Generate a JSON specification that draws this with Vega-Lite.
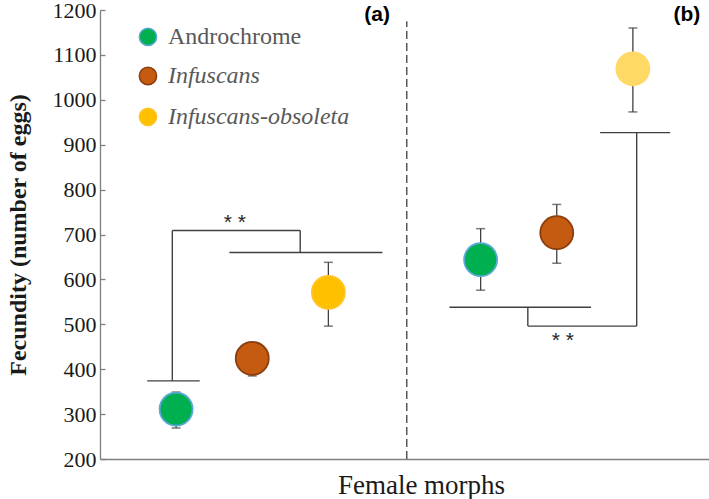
{
  "$schema": "https://vega.github.io/schema/vega-lite/v6.json",
  "width": 609,
  "height": 449,
  "autosize": "none",
  "padding": {"left": 100, "top": 10, "right": 0, "bottom": 40},
  "background": "white",
  "config": {
    "view": {"stroke": null},
    "font": "Liberation Serif",
    "numberFormat": "d",
    "style": {"guide-label": {"font": "Liberation Serif", "fontSize": 22, "fill": "#1a1a1a"}},
    "axis": {"grid": false},
    "axisLeft": {
      "tickSize": -5, "tickColor": "#7f7f7f", "domainColor": "#7f7f7f", "domainWidth": 1.3, "tickWidth": 1.3,
      "labelFont": "Liberation Serif", "labelFontSize": 22, "labelColor": "#1a1a1a", "labelPadding": 9,
      "titleFont": "Liberation Serif", "titleFontSize": 24, "titleFontWeight": "bold", "titleColor": "#1a1a1a", "titlePadding": 22
    },
    "axisBottom": {
      "ticks": false, "labels": false, "domainColor": "#7f7f7f", "domainWidth": 1.3,
      "titleFont": "Liberation Serif", "titleFontSize": 27, "titleFontWeight": "normal", "titleColor": "#1a1a1a", "titlePadding": 13
    }
  },
  "datasets": {
    "means": [
      {"panel": "a", "morph": "Androchrome", "pos": 1, "mean": 311, "lo": 269, "hi": 349},
      {"panel": "a", "morph": "Infuscans", "pos": 2, "mean": 424, "lo": 385, "hi": 455},
      {"panel": "a", "morph": "Infuscans-obsoleta", "pos": 3, "mean": 571, "lo": 496, "hi": 638},
      {"panel": "b", "morph": "Androchrome", "pos": 5, "mean": 644, "lo": 576, "hi": 713},
      {"panel": "b", "morph": "Infuscans", "pos": 6, "mean": 704, "lo": 636, "hi": 767},
      {"panel": "b", "morph": "Infuscans-obsoleta", "pos": 7, "mean": 1069, "lo": 973, "hi": 1160}
    ],
    "brackets": [
      {"panel": "a", "xa": 0.62, "xb": 1.31, "ya": 374, "yb": 374},
      {"panel": "a", "xa": 0.95, "xb": 0.95, "ya": 374, "yb": 709},
      {"panel": "a", "xa": 0.95, "xb": 2.63, "ya": 709, "yb": 709},
      {"panel": "a", "xa": 2.63, "xb": 2.63, "ya": 709, "yb": 660},
      {"panel": "a", "xa": 1.70, "xb": 3.71, "ya": 660, "yb": 660},
      {"panel": "b", "xa": 4.59, "xb": 6.45, "ya": 538, "yb": 538},
      {"panel": "b", "xa": 5.62, "xb": 5.62, "ya": 538, "yb": 496},
      {"panel": "b", "xa": 5.62, "xb": 7.05, "ya": 496, "yb": 496},
      {"panel": "b", "xa": 7.05, "xb": 7.05, "ya": 496, "yb": 927},
      {"panel": "b", "xa": 6.57, "xb": 7.49, "ya": 927, "yb": 927}
    ],
    "notes": [
      {"label": "* *", "px": 1.77, "py": 737},
      {"label": "* *", "px": 6.08, "py": 474}
    ],
    "panels": [
      {"label": "(a)", "px": 3.64, "py": 1188},
      {"label": "(b)", "px": 7.71, "py": 1188}
    ],
    "legend": [
      {"morph": "Androchrome", "italic": false, "lx": 0.63, "ly": 1140},
      {"morph": "Infuscans", "italic": true, "lx": 0.63, "ly": 1053},
      {"morph": "Infuscans-obsoleta", "italic": true, "lx": 0.63, "ly": 962}
    ]
  },
  "layer": [
    {
      "data": {"values": [{"dx": 4.03, "dy1": 200, "dy2": 1175}]},
      "mark": {"type": "rule", "strokeDash": [8, 4], "stroke": "#404040", "strokeWidth": 1.3},
      "encoding": {
        "x": {"field": "dx", "type": "quantitative", "scale": {"domain": [0, 8], "nice": false, "zero": false},
          "axis": {"title": "Female morphs", "titleX": 321, "ticks": false, "labels": false, "titleFont": "Liberation Serif", "titleFontSize": 27, "titlePadding": 13}},
        "y": {"field": "dy1", "type": "quantitative", "scale": {"domain": [200, 1200], "nice": false, "zero": false},
          "axis": {"title": "Fecundity (number of eggs)", "values": [200, 300, 400, 500, 600, 700, 800, 900, 1000, 1100, 1200],
            "format": "d", "labelFont": "Liberation Serif", "labelFontSize": 22, "labelColor": "#1a1a1a", "labelPadding": 9,
            "tickSize": -5, "tickColor": "#7f7f7f", "domainColor": "#7f7f7f", "titlePadding": 22}},
        "y2": {"field": "dy2"}
      }
    },
    {
      "data": {"name": "brackets"},
      "mark": {"type": "rule", "stroke": "#404040", "strokeWidth": 1.4},
      "encoding": {
        "x": {"field": "xa", "type": "quantitative"},
        "x2": {"field": "xb"},
        "y": {"field": "ya", "type": "quantitative"},
        "y2": {"field": "yb"}
      }
    },
    {
      "data": {"name": "means"},
      "mark": {"type": "rule", "stroke": "#404040", "strokeWidth": 1.3},
      "encoding": {
        "x": {"field": "pos", "type": "quantitative"},
        "y": {"field": "lo", "type": "quantitative"},
        "y2": {"field": "hi"}
      }
    },
    {
      "data": {"name": "means"},
      "mark": {"type": "tick", "orient": "horizontal", "size": 9, "thickness": 1.5, "color": "#404040"},
      "encoding": {
        "x": {"field": "pos", "type": "quantitative"},
        "y": {"field": "lo", "type": "quantitative"}
      }
    },
    {
      "data": {"name": "means"},
      "mark": {"type": "tick", "orient": "horizontal", "size": 9, "thickness": 1.5, "color": "#404040"},
      "encoding": {
        "x": {"field": "pos", "type": "quantitative"},
        "y": {"field": "hi", "type": "quantitative"}
      }
    },
    {
      "data": {"name": "means"},
      "mark": {"type": "point", "shape": "circle", "filled": true, "size": 1089, "opacity": 1, "strokeWidth": 1.8, "strokeOpacity": 1},
      "encoding": {
        "x": {"field": "pos", "type": "quantitative"},
        "y": {"field": "mean", "type": "quantitative"},
        "fill": {
          "condition": {"test": "datum.panel === 'b' && datum.morph === 'Infuscans-obsoleta'", "value": "#FFD966"},
          "field": "morph", "type": "nominal",
          "scale": {"domain": ["Androchrome", "Infuscans", "Infuscans-obsoleta"], "range": ["#00B050", "#C55A11", "#FFC000"]},
          "legend": null
        },
        "stroke": {
          "condition": {"test": "datum.panel === 'b' && datum.morph === 'Infuscans-obsoleta'", "value": "#FFD966"},
          "field": "morph", "type": "nominal",
          "scale": {"domain": ["Androchrome", "Infuscans", "Infuscans-obsoleta"], "range": ["#5BA7D6", "#8B3E0F", "#FFC526"]},
          "legend": null
        }
      }
    },
    {
      "data": {"name": "notes"},
      "mark": {"type": "text", "font": "Liberation Sans", "fontSize": 21, "color": "#262626", "align": "center", "baseline": "middle", "dy": 5},
      "encoding": {
        "x": {"field": "px", "type": "quantitative"},
        "y": {"field": "py", "type": "quantitative"},
        "text": {"field": "label"}
      }
    },
    {
      "data": {"name": "panels"},
      "mark": {"type": "text", "font": "Liberation Sans", "fontSize": 21, "fontWeight": "bold", "color": "#000000", "align": "center", "baseline": "middle"},
      "encoding": {
        "x": {"field": "px", "type": "quantitative"},
        "y": {"field": "py", "type": "quantitative"},
        "text": {"field": "label"}
      }
    },
    {
      "data": {"name": "legend"},
      "mark": {"type": "point", "shape": "circle", "filled": true, "size": 300, "opacity": 1, "strokeWidth": 1.5},
      "encoding": {
        "x": {"field": "lx", "type": "quantitative"},
        "y": {"field": "ly", "type": "quantitative"},
        "fill": {"field": "morph", "type": "nominal",
          "scale": {"domain": ["Androchrome", "Infuscans", "Infuscans-obsoleta"], "range": ["#00B050", "#C55A11", "#FFC000"]},
          "legend": null},
        "stroke": {"field": "morph", "type": "nominal",
          "scale": {"domain": ["Androchrome", "Infuscans", "Infuscans-obsoleta"], "range": ["#5BA7D6", "#8B3E0F", "#FFC526"]},
          "legend": null}
      }
    },
    {
      "data": {"name": "legend"},
      "transform": [{"filter": "!datum.italic"}],
      "mark": {"type": "text", "font": "Liberation Serif", "fontSize": 24, "color": "#595959", "align": "left", "baseline": "middle", "dx": 20},
      "encoding": {
        "x": {"field": "lx", "type": "quantitative"},
        "y": {"field": "ly", "type": "quantitative"},
        "text": {"field": "morph"}
      }
    },
    {
      "data": {"name": "legend"},
      "transform": [{"filter": "datum.italic"}],
      "mark": {"type": "text", "font": "Liberation Serif", "fontSize": 24, "fontStyle": "italic", "color": "#595959", "align": "left", "baseline": "middle", "dx": 20},
      "encoding": {
        "x": {"field": "lx", "type": "quantitative"},
        "y": {"field": "ly", "type": "quantitative"},
        "text": {"field": "morph"}
      }
    }
  ]
}
